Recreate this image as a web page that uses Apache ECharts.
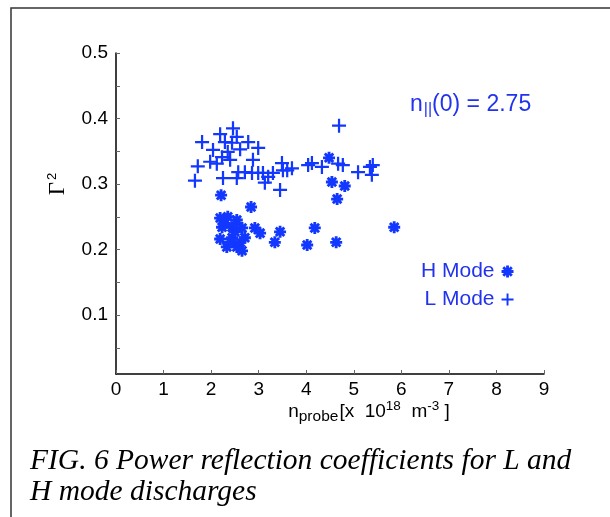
<!DOCTYPE html>
<html>
<head>
<meta charset="utf-8">
<script src="https://cdn.jsdelivr.net/npm/echarts@6/dist/echarts.min.js"></script>
<style>
html,body{margin:0;padding:0;background:#fff;}
#chart{width:610px;height:517px;}
</style>
</head>
<body>
<div id="chart"></div>
<script>
// ---- data ----
const xTickValues = [0,1,2,3,4,5,6,7,8,9];
const yLabelValues = [0.1,0.2,0.3,0.4,0.5];
const yTickValues = [0.05,0.1,0.15,0.2,0.25,0.3,0.35,0.4,0.45,0.5];

const lModeX = [1.66,1.72,1.81,1.98,2.04,2.12,2.19,2.23,2.25,2.29,2.35,2.40,2.44,2.46,2.54,2.54,2.57,2.61,2.71,2.78,2.86,2.88,2.99,2.99,3.09,3.13,3.20,3.30,3.45,3.49,3.51,3.60,3.70,4.04,4.12,4.33,4.69,4.67,4.77,5.09,5.34,5.40,5.38];
const lModeY = [0.305,0.327,0.364,0.334,0.352,0.331,0.376,0.341,0.309,0.364,0.349,0.337,0.363,0.385,0.372,0.309,0.318,0.353,0.318,0.364,0.317,0.337,0.355,0.317,0.317,0.302,0.311,0.317,0.291,0.332,0.321,0.321,0.324,0.329,0.332,0.326,0.389,0.331,0.329,0.318,0.326,0.329,0.314];

const hModeX = [2.21,2.84,2.19,2.35,2.54,2.23,2.44,2.65,2.92,3.03,2.19,2.44,2.61,2.33,2.54,2.65,3.45,3.34,4.18,4.02,4.63,4.48,4.54,4.81,4.65,5.85,2.29,2.50,2.71,2.40];
const hModeY = [0.283,0.265,0.248,0.250,0.245,0.234,0.234,0.233,0.233,0.225,0.216,0.218,0.211,0.204,0.204,0.198,0.227,0.211,0.233,0.207,0.211,0.340,0.303,0.297,0.277,0.234,0.240,0.227,0.218,0.211];

const seriesNames = ['H Mode','L Mode'];

// ---- styling ----
const markColor = '#1238ff';
const textBlue = '#2233ee';
const plusPath = 'path://M4.2,0L5.8,0L5.8,4.2L10,4.2L10,5.8L5.8,5.8L5.8,10L4.2,10L4.2,5.8L0,5.8L0,4.2L4.2,4.2Z';
const astPath = 'path://M0,3.8L10,3.8L10,6.2L0,6.2Z M6.2,0L6.2,10L3.8,10L3.8,0Z M2.3,0.6L9.4,7.7L7.7,9.4L0.6,2.3Z M9.4,2.3L2.3,9.4L0.6,7.7L7.7,0.6Z';

const zip = (xs, ys) => xs.map((x, i) => [x, ys[i]]);

const chart = echarts.init(document.getElementById('chart'), null, {renderer: 'canvas'});
const sans = 'Liberation Sans, Arial, Helvetica, sans-serif';
const serif = 'Liberation Serif, Times New Roman, serif';

chart.setOption({
  backgroundColor: '#fff',
  animation: false,
  grid: {left: 116, right: 66, top: 53, bottom: 143},
  xAxis: {
    type: 'value', min: 0, max: 9, interval: 1,
    axisLine: {lineStyle: {color: '#000', width: 1.5}},
    axisTick: {inside: true, length: 4, lineStyle: {color: '#666'}},
    axisLabel: {fontSize: 19, color: '#000', margin: 6, fontFamily: sans},
    splitLine: {show: false}
  },
  yAxis: {
    type: 'value', min: 0.01, max: 0.5,
    axisLine: {show: true, lineStyle: {color: '#000', width: 1.5}},
    axisTick: {show: true, inside: true, length: 4, customValues: yTickValues, lineStyle: {color: '#666'}},
    axisLabel: {customValues: yLabelValues, fontSize: 19, color: '#000', margin: 8, fontFamily: sans,
      formatter: v => v.toFixed(1)},
    splitLine: {show: false}
  },
  legend: {
    orient: 'vertical', left: 416, top: 256, align: 'right',
    itemWidth: 12, itemHeight: 12, itemGap: 7, selectedMode: false,
    textStyle: {fontSize: 21, color: textBlue, fontFamily: sans, padding: [0, 2, 0, 0]},
    data: [{name: seriesNames[0], icon: astPath}, {name: seriesNames[1], icon: plusPath}]
  },
  series: [
    {name: seriesNames[1], type: 'scatter', symbol: plusPath, symbolSize: 14,
     itemStyle: {color: markColor, opacity: 1}, data: zip(lModeX, lModeY)},
    {name: seriesNames[0], type: 'scatter', symbol: astPath, symbolSize: 12,
     itemStyle: {color: markColor, opacity: 1}, data: zip(hModeX, hModeY)}
  ],
  graphic: [
    {type: 'rect', shape: {x: 11, y: 8, width: 700, height: 700},
     style: {fill: 'none', stroke: '#333', lineWidth: 1.5}, silent: true},
    {type: 'text', x: 58, y: 184, rotation: Math.PI / 2,
     style: {text: '{g|Γ}{s|2}', align: 'center', verticalAlign: 'middle',
       rich: {g: {fontSize: 23, fontFamily: serif, fill: '#000'},
              s: {fontSize: 13, fontFamily: sans, fill: '#000', padding: [0, 0, 12, 2]}}}},
    {type: 'text', x: 410, y: 105,
     style: {text: '{a|n}{b|||}{a|(0) = 2.75}', align: 'left', verticalAlign: 'middle',
       rich: {a: {fontSize: 23, fontFamily: sans, fill: textBlue},
              b: {fontSize: 16, fontFamily: sans, fill: textBlue, padding: [10, 0, 0, 1]}}}},
    {type: 'text', x: 369, y: 412,
     style: {text: '{a|n}{b|probe}{a|[x  10}{c|18}{a|  m}{c|-3}{a| ]}', align: 'center', verticalAlign: 'middle',
       rich: {a: {fontSize: 19, fontFamily: sans, fill: '#000'},
              b: {fontSize: 15.5, fontFamily: sans, fill: '#000', padding: [10, 1, 0, 0]},
              c: {fontSize: 13.5, fontFamily: sans, fill: '#000', padding: [0, 0, 11, 0]}}}},
    {type: 'text', x: 30, y: 461,
     style: {text: 'FIG. 6 Power reflection coefficients for L and', fontSize: 29.5, fontStyle: 'italic',
       fontFamily: serif, fill: '#000', verticalAlign: 'middle'}},
    {type: 'text', x: 30, y: 492,
     style: {text: 'H mode discharges', fontSize: 29.5, fontStyle: 'italic',
       fontFamily: serif, fill: '#000', verticalAlign: 'middle'}}
  ]
});
</script>
</body>
</html>
